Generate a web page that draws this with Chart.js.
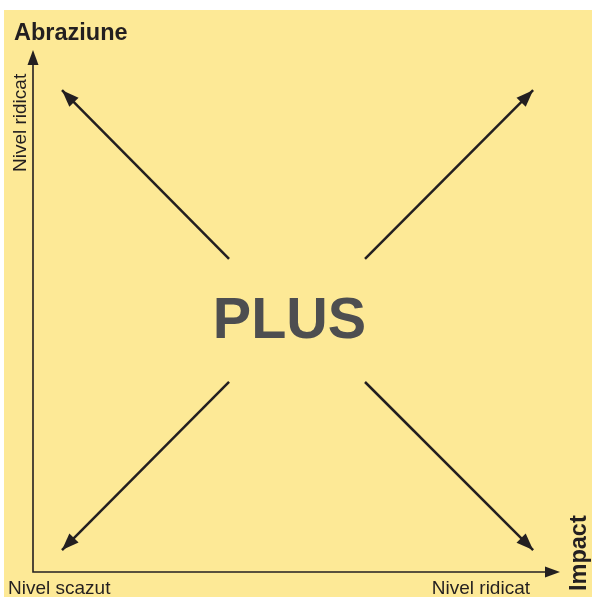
<!DOCTYPE html>
<html>
<head>
<meta charset="utf-8">
<script src="https://cdn.jsdelivr.net/npm/chart.js@4.4.0/dist/chart.umd.min.js"></script>
<style>
  html, body { margin: 0; padding: 0; background: #ffffff; }
  #wrap { width: 592px; height: 597px; }
</style>
</head>
<body>
<div id="wrap"><canvas id="quadChart" width="592" height="597"></canvas></div>
<script>
document.addEventListener('DOMContentLoaded', () => {

    // arrow start (tail) and end (tip) points, in axis units 0..100
    const arrowNames = ['stanga sus', 'dreapta sus', 'stanga jos', 'dreapta jos'];
    const arrowFrom = [[37.2, 60.0], [63.0, 60.0], [37.2, 36.4], [63.0, 36.4]];
    const arrowTo = [[5.5, 92.3], [94.9, 92.3], [5.5, 4.2], [94.9, 4.2]];

    const yTitle = 'Abraziune';
    const xTitle = 'Impact';
    const lowLabel = 'Nivel scazut';
    const highLabel = 'Nivel ridicat';
    const centerLabel = 'PLUS';

    const ink = '#231f20';
    const yellow = '#fde996';

    const datasets = arrowNames.map((name, i) => ({
        label: name,
        data: [{ x: arrowFrom[i][0], y: arrowFrom[i][1] }, { x: arrowTo[i][0], y: arrowTo[i][1] }],
        showLine: true,
        borderColor: ink,
        borderWidth: 2.5,
        pointRadius: 0,
        pointHoverRadius: 0
    }));

    function head(ctx, x1, y1, x2, y2, len, half) {
        const a = Math.atan2(y2 - y1, x2 - x1);
        ctx.beginPath();
        ctx.moveTo(x2, y2);
        ctx.lineTo(x2 - len * Math.cos(a) + half * Math.sin(a), y2 - len * Math.sin(a) - half * Math.cos(a));
        ctx.lineTo(x2 - len * Math.cos(a) - half * Math.sin(a), y2 - len * Math.sin(a) + half * Math.cos(a));
        ctx.closePath();
        ctx.fill();
    }

    const quadrantPlugin = {
        id: 'quadrant',
        beforeDraw(chart) {
            const ctx = chart.ctx;
            ctx.save();
            ctx.fillStyle = yellow;
            ctx.fillRect(4, 10, chart.width - 4, chart.height - 10);
            ctx.restore();
        },
        afterDatasetsDraw(chart) {
            const ctx = chart.ctx;
            const { left, right, top, bottom } = chart.chartArea;
            const xs = chart.scales.x, ys = chart.scales.y;
            ctx.save();
            ctx.fillStyle = ink;
            ctx.strokeStyle = ink;

            // arrowheads on the four diagonal arrows
            arrowNames.forEach((n, i) => {
                head(ctx,
                    xs.getPixelForValue(arrowFrom[i][0]), ys.getPixelForValue(arrowFrom[i][1]),
                    xs.getPixelForValue(arrowTo[i][0]), ys.getPixelForValue(arrowTo[i][1]), 17, 6.5);
            });

            // axes
            ctx.lineWidth = 1.6;
            ctx.beginPath();
            ctx.moveTo(left, top + 10);
            ctx.lineTo(left, bottom);
            ctx.lineTo(right - 10, bottom);
            ctx.stroke();
            head(ctx, left, bottom, left, top, 15, 5.5);
            head(ctx, left, bottom, right, bottom, 15, 5.5);

            // texts
            ctx.textBaseline = 'alphabetic';
            ctx.font = 'bold 23.5px "Liberation Sans", Arial, sans-serif';
            ctx.textAlign = 'left';
            ctx.fillText(yTitle, 14, 40);

            ctx.font = '19px "Liberation Sans", Arial, sans-serif';
            ctx.fillText(lowLabel, 8, 594);
            ctx.textAlign = 'right';
            ctx.fillText(highLabel, 530, 594);

            ctx.save();
            ctx.translate(26, 172);
            ctx.rotate(-Math.PI / 2);
            ctx.textAlign = 'left';
            ctx.fillText(highLabel, 0, 0);
            ctx.restore();

            ctx.save();
            ctx.translate(586, 591);
            ctx.rotate(-Math.PI / 2);
            ctx.textAlign = 'left';
            ctx.font = 'bold 23.5px "Liberation Sans", Arial, sans-serif';
            ctx.fillText(xTitle, 0, 0);
            ctx.restore();

            ctx.fillStyle = '#4d4e50';
            ctx.font = 'bold 57.5px "Liberation Sans", Arial, sans-serif';
            ctx.textAlign = 'center';
            ctx.fillText(centerLabel, (left + right) / 2 - 7, 338);
            ctx.restore();
        }
    };

    new Chart(document.getElementById('quadChart'), {
        type: 'scatter',
        data: { datasets },
        options: {
            responsive: false,
            devicePixelRatio: 1,
            animation: false,
            layout: { padding: { left: 33, right: 32, top: 50, bottom: 25 } },
            scales: {
                x: { display: false, min: 0, max: 100 },
                y: { display: false, min: 0, max: 100 }
            },
            plugins: { legend: { display: false }, tooltip: { enabled: false } }
        },
        plugins: [quadrantPlugin]
    });

});
</script>
</body>
</html>
